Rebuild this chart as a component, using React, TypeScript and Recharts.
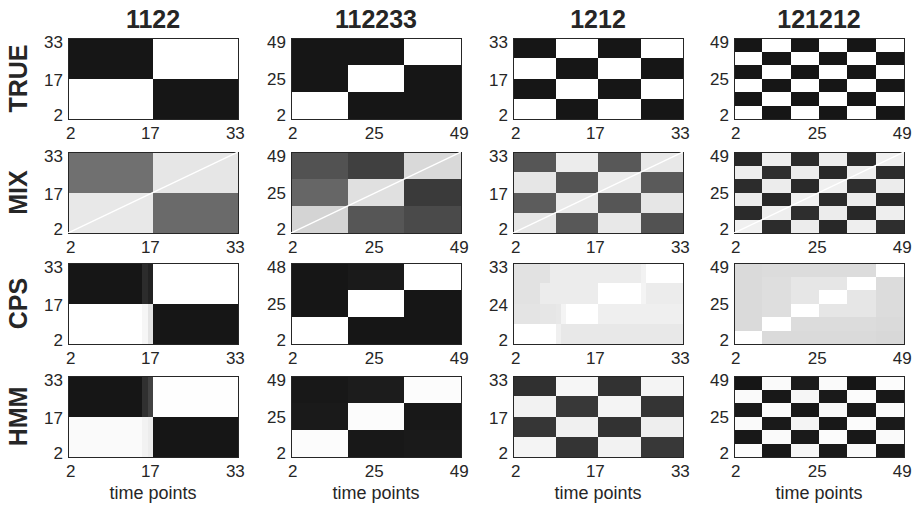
import { ComposedChart, ReferenceArea, ReferenceLine, XAxis, YAxis } from "recharts";

// column titles and row labels
const titles = ["1122", "112233", "1212", "121212"];
const methods = ["TRUE", "MIX", "CPS", "HMM"];

// axis ticks, per column
const ticks33 = [2, 17, 33];
const ticks49 = [2, 25, 49];
const domain33: [number, number] = [1.5, 33.5];
const domain49: [number, number] = [1.5, 49.5];

// segment edges in time points
const edges2 = [1.5, 17.5, 33.5];
const edges3 = [1.5, 17.5, 33.5, 49.5];
const edges4 = [1.5, 9.5, 17.5, 25.5, 33.5];
const edges6 = [1.5, 9.5, 17.5, 25.5, 33.5, 41.5, 49.5];
const edgesCps1122X = [1.5, 15.5, 16.5, 17.5, 33.5];
const edgesCps1212X = [1.5, 6.5, 8.5, 9.5, 10.5, 11.5, 17.5, 25.5, 26.5, 33.5];

// grey levels (0 = black, 255 = white), rows listed bottom to top
const true1122 = [
  [255, 22],
  [22, 255],
];
const mix1122 = [
  [232, 106],
  [112, 230],
];
const cps1122 = [
  [255, 246, 228, 22],
  [22, 44, 34, 255],
];
const hmm1122 = [
  [250, 242, 236, 22],
  [22, 48, 66, 254],
];

const true112233 = [
  [255, 22, 22],
  [22, 255, 22],
  [22, 22, 255],
];
const mix112233 = [
  [212, 86, 74],
  [102, 224, 58],
  [82, 64, 217],
];
const cps112233 = [
  [255, 22, 22],
  [22, 255, 22],
  [22, 26, 255],
];
const hmm112233 = [
  [252, 24, 26],
  [26, 252, 24],
  [24, 28, 252],
];

const true1212 = [
  [255, 22, 255, 22],
  [22, 255, 22, 255],
  [255, 22, 255, 22],
  [22, 255, 22, 255],
];
const mix1212 = [
  [230, 88, 232, 82],
  [92, 234, 86, 230],
  [230, 84, 234, 90],
  [86, 236, 88, 232],
];
const cps1212 = [
  [255, 255, 255, 240, 232, 232, 232, 232, 232],
  [228, 230, 230, 232, 244, 255, 239, 239, 239],
  [226, 236, 236, 236, 236, 236, 255, 244, 236],
  [226, 226, 236, 236, 236, 236, 236, 242, 255],
];
const hmm1212 = [
  [244, 52, 242, 56],
  [54, 240, 50, 238],
  [242, 56, 244, 52],
  [48, 246, 50, 244],
];

const true121212 = [
  [255, 22, 255, 22, 255, 22],
  [22, 255, 22, 255, 22, 255],
  [255, 22, 255, 22, 255, 22],
  [22, 255, 22, 255, 22, 255],
  [255, 22, 255, 22, 255, 22],
  [22, 255, 22, 255, 22, 255],
];
const mix121212 = [
  [240, 44, 236, 40, 238, 46],
  [42, 238, 46, 236, 40, 238],
  [236, 40, 240, 44, 236, 42],
  [44, 236, 42, 240, 46, 236],
  [238, 46, 236, 40, 238, 44],
  [40, 238, 44, 236, 42, 240],
];
const cps121212 = [
  [255, 218, 218, 218, 218, 216],
  [218, 255, 220, 220, 220, 218],
  [218, 222, 255, 230, 230, 220],
  [218, 222, 230, 255, 230, 220],
  [218, 222, 230, 230, 255, 220],
  [218, 220, 220, 220, 220, 255],
];
const hmm121212 = [
  [252, 24, 246, 26, 250, 24],
  [24, 250, 26, 252, 24, 250],
  [250, 26, 244, 24, 252, 26],
  [26, 252, 24, 248, 26, 250],
  [250, 24, 246, 26, 252, 24],
  [22, 250, 28, 250, 22, 252],
];

type Panel = {
  xEdges: number[];
  yEdges: number[];
  shades: number[][];
  diagonal?: boolean;
  yLabels?: string[];
};

// panels[row][col]
const panels: Panel[][] = [
  [
    { xEdges: edges2, yEdges: edges2, shades: true1122 },
    { xEdges: edges3, yEdges: edges3, shades: true112233 },
    { xEdges: edges4, yEdges: edges4, shades: true1212 },
    { xEdges: edges6, yEdges: edges6, shades: true121212 },
  ],
  [
    { xEdges: edges2, yEdges: edges2, shades: mix1122, diagonal: true },
    { xEdges: edges3, yEdges: edges3, shades: mix112233, diagonal: true },
    { xEdges: edges4, yEdges: edges4, shades: mix1212, diagonal: true },
    { xEdges: edges6, yEdges: edges6, shades: mix121212, diagonal: true },
  ],
  [
    { xEdges: edgesCps1122X, yEdges: edges2, shades: cps1122 },
    { xEdges: edges3, yEdges: edges3, shades: cps112233, yLabels: ["2", "25", "48"] },
    { xEdges: edgesCps1212X, yEdges: edges4, shades: cps1212, yLabels: ["2", "24", "33"] },
    { xEdges: edges6, yEdges: edges6, shades: cps121212 },
  ],
  [
    { xEdges: edgesCps1122X, yEdges: edges2, shades: hmm1122 },
    { xEdges: edges3, yEdges: edges3, shades: hmm112233 },
    { xEdges: edges4, yEdges: edges4, shades: hmm1212 },
    { xEdges: edges6, yEdges: edges6, shades: hmm121212 },
  ],
];

const colLeft = [68, 291, 513, 734];
const rowTop = [38, 152, 263, 376];
const PLOT_W = 170;
const PLOT_H = 81;
const AXIS_W = 44;
const TOP = 8;
const RIGHT = 12;
const AXIS_H = 26;
const INK = "#262626";
const FONT = "'Liberation Sans', Arial, sans-serif";

const gray = (v: number) => `rgb(${v},${v},${v})`;

// matlab-ish y tick: end labels sit a little inside the box
function YTick(props: any) {
  const { x, y, payload, index, labels } = props;
  const nudge = index === 0 ? -3 : index === 2 ? 3 : 0;
  return (
    <text
      x={x}
      y={y + nudge}
      dy="0.355em"
      textAnchor="end"
      fontSize={17}
      fill={INK}
      fontFamily={FONT}
    >
      {labels ? labels[index] : payload.value}
    </text>
  );
}

function HeatPanel({ panel, col, row }: { panel: Panel; col: number; row: number }) {
  const long = col % 2 === 1;
  const domain = long ? domain49 : domain33;
  const ticks = long ? ticks49 : ticks33;
  const tickStyle = { fontSize: 17, fill: INK, fontFamily: FONT };
  const cells: JSX.Element[] = [];
  panel.shades.forEach((rowShades, r) =>
    rowShades.forEach((v, c) => {
      cells.push(
        <ReferenceArea
          key={`${r}-${c}`}
          x1={panel.xEdges[c]}
          x2={panel.xEdges[c + 1]}
          y1={panel.yEdges[r]}
          y2={panel.yEdges[r + 1]}
          fill={gray(v)}
          fillOpacity={1}
          stroke="none"
          ifOverflow="hidden"
        />
      );
    })
  );
  return (
    <div
      style={{
        position: "absolute",
        left: colLeft[col] - AXIS_W,
        top: rowTop[row] - TOP,
      }}
    >
      <ComposedChart
        width={AXIS_W + PLOT_W + RIGHT}
        height={TOP + PLOT_H + AXIS_H}
        data={[]}
        margin={{ top: TOP, right: RIGHT, bottom: 0, left: 0 }}
      >
        <XAxis
          type="number"
          dataKey="x"
          domain={domain}
          ticks={ticks}
          allowDataOverflow
          axisLine={false}
          tickLine={false}
          height={AXIS_H}
          tick={tickStyle}
          interval={0}
        />
        <YAxis
          type="number"
          dataKey="y"
          domain={domain}
          ticks={ticks}
          allowDataOverflow
          axisLine={false}
          tickLine={false}
          width={AXIS_W}
          tickSize={3}
          tick={<YTick labels={panel.yLabels} />}
          interval={0}
        />
        {cells}
        {panel.diagonal && (
          <ReferenceLine
            segment={[
              { x: domain[0], y: domain[0] },
              { x: domain[1], y: domain[1] },
            ]}
            stroke="#ffffff"
            strokeWidth={1.4}
            ifOverflow="hidden"
          />
        )}
        <ReferenceArea
          x1={domain[0]}
          x2={domain[1]}
          y1={domain[0]}
          y2={domain[1]}
          fill="none"
          stroke={INK}
          strokeWidth={1}
        />
      </ComposedChart>
    </div>
  );
}

export default function App() {
  return (
    <div
      style={{
        position: "absolute",
        left: 0,
        top: 0,
        width: 916,
        height: 509,
        background: "#ffffff",
        fontFamily: FONT,
      }}
    >
      <style>{`.recharts-reference-area-rect { shape-rendering: crispEdges; }`}</style>
      {panels.map((rowPanels, r) =>
        rowPanels.map((p, c) => <HeatPanel key={`${r}-${c}`} panel={p} col={c} row={r} />)
      )}
      <svg
        width={916}
        height={509}
        style={{ position: "absolute", left: 0, top: 0, pointerEvents: "none" }}
      >
        {titles.map((t, c) => (
          <text
            key={t}
            x={colLeft[c] + PLOT_W / 2}
            y={28}
            textAnchor="middle"
            fontSize={25}
            fontWeight="bold"
            fill={INK}
            fontFamily={FONT}
          >
            {t}
          </text>
        ))}
        {methods.map((m, r) => (
          <text
            key={m}
            transform={`translate(27, ${rowTop[r] + PLOT_H / 2}) rotate(-90)`}
            textAnchor="middle"
            fontSize={25}
            fontWeight="bold"
            fill={INK}
            fontFamily={FONT}
          >
            {m}
          </text>
        ))}
        {titles.map((t, c) => (
          <text
            key={`tp-${t}`}
            x={colLeft[c] + PLOT_W / 2}
            y={499}
            textAnchor="middle"
            fontSize={18}
            fill={INK}
            fontFamily={FONT}
          >
            time points
          </text>
        ))}
      </svg>
    </div>
  );
}
